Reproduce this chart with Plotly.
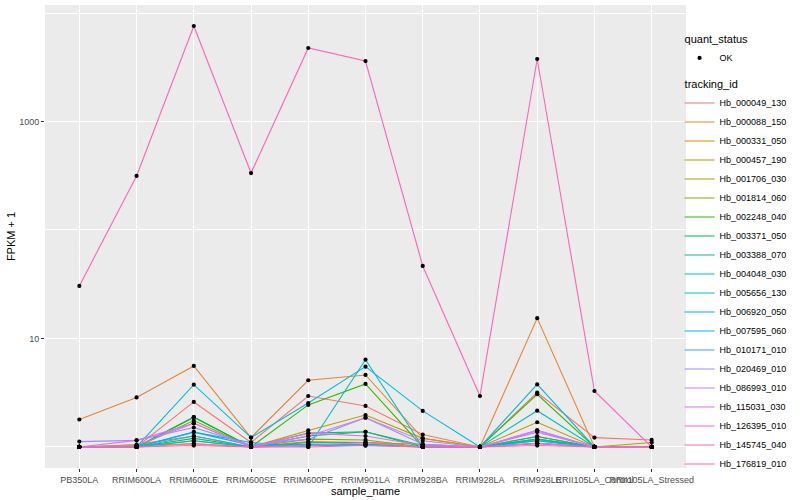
import math
import plotly.graph_objects as go

samples = ["PB350LA", "RRIM600LA", "RRIM600LE", "RRIM600SE", "RRIM600PE", "RRIM901LA",
           "RRIM928BA", "RRIM928LA", "RRIM928LE", "RRII105LA_Control", "RRII105LA_Stressed"]

tracking_ids = ["Hb_000049_130", "Hb_000088_150", "Hb_000331_050", "Hb_000457_190",
                "Hb_001706_030", "Hb_001814_060", "Hb_002248_040", "Hb_003371_050",
                "Hb_003388_070", "Hb_004048_030", "Hb_005656_130", "Hb_006920_050",
                "Hb_007595_060", "Hb_010171_010", "Hb_020469_010", "Hb_086993_010",
                "Hb_115031_030", "Hb_126395_010", "Hb_145745_040", "Hb_176819_010"]

# FPKM + 1 per sample (order of `samples`)
hb_000049_130 = [1.00, 1.00, 2.60, 1.10, 2.95, 2.39, 1.30, 1.00, 3.17, 1.22, 1.16]
hb_000088_150 = [1.79, 2.86, 5.58, 1.22, 4.12, 4.61, 1.20, 1.00, 15.4, 1.00, 1.00]
hb_000331_050 = [1.00, 1.03, 1.07, 1.00, 1.12, 1.10, 1.06, 1.00, 1.08, 1.00, 1.00]
hb_000457_190 = [1.00, 1.05, 1.26, 1.00, 1.42, 1.97, 1.20, 1.00, 1.69, 1.00, 1.10]
hb_001706_030 = [1.00, 1.00, 1.14, 1.00, 1.06, 1.06, 1.00, 1.00, 1.14, 1.00, 1.00]
hb_001814_060 = [1.00, 1.00, 1.75, 1.00, 1.18, 1.16, 1.00, 1.00, 1.25, 1.00, 1.00]
hb_002248_040 = [1.00, 1.00, 1.88, 1.00, 2.44, 3.81, 1.00, 1.00, 3.06, 1.00, 1.00]
hb_003371_050 = [1.00, 1.00, 1.88, 1.00, 1.26, 1.38, 1.00, 1.00, 1.18, 1.00, 1.00]
hb_003388_070 = [1.00, 1.00, 1.20, 1.00, 1.34, 1.38, 1.03, 1.00, 1.25, 1.00, 1.00]
hb_004048_030 = [1.00, 1.00, 1.14, 1.00, 1.10, 1.10, 1.00, 1.00, 1.18, 1.00, 1.00]
hb_005656_130 = [1.00, 1.00, 1.37, 1.10, 1.00, 6.38, 1.00, 1.00, 2.16, 1.00, 1.00]
hb_006920_050 = [1.00, 1.00, 3.75, 1.22, 2.54, 5.50, 2.15, 1.00, 3.77, 1.00, 1.00]
hb_007595_060 = [1.00, 1.00, 1.37, 1.04, 1.06, 1.06, 1.00, 1.00, 1.14, 1.00, 1.00]
hb_010171_010 = [1.00, 1.00, 1.26, 1.00, 1.03, 1.03, 1.00, 1.00, 1.08, 1.00, 1.00]
hb_020469_010 = [1.12, 1.15, 1.51, 1.04, 1.18, 1.86, 1.06, 1.00, 1.42, 1.00, 1.00]
hb_086993_010 = [1.00, 1.03, 1.65, 1.00, 1.26, 1.86, 1.14, 1.00, 1.42, 1.00, 1.00]
hb_115031_030 = [1.00, 1.15, 1.65, 1.00, 1.34, 1.26, 1.03, 1.00, 1.37, 1.00, 1.00]
hb_126395_010 = [1.00, 1.00, 1.07, 1.00, 1.03, 1.10, 1.00, 1.00, 1.08, 1.00, 1.00]
hb_145745_040 = [30.5, 315.0, 7590.0, 335.0, 4760.0, 3610.0, 46.6, 2.95, 3767.0, 3.28, 1.00]
hb_176819_010 = [1.00, 1.00, 1.03, 1.00, 1.00, 1.03, 1.00, 1.00, 1.03, 1.00, 1.00]

gene_values = [hb_000049_130, hb_000088_150, hb_000331_050, hb_000457_190, hb_001706_030,
               hb_001814_060, hb_002248_040, hb_003371_050, hb_003388_070, hb_004048_030,
               hb_005656_130, hb_006920_050, hb_007595_060, hb_010171_010, hb_020469_010,
               hb_086993_010, hb_115031_030, hb_126395_010, hb_145745_040, hb_176819_010]

y_tick_vals = [10, 1000]
y_tick_text = ["10", "1000"]


def hcl_hex(h, c=100.0, l=65.0):
    hr = math.radians(h)
    U, V = c * math.cos(hr), c * math.sin(hr)
    Y = 100.0 * ((l + 16.0) / 116.0) ** 3
    Xn, Yn, Zn = 95.047, 100.0, 108.883
    t = Xn + 15 * Yn + 3 * Zn
    un, vn = 4 * Xn / t, 9 * Yn / t
    u = U / (13 * l) + un
    v = V / (13 * l) + vn
    X = 9.0 * Y * u / (4 * v)
    Z = Y * (12 - 3 * u - 20 * v) / (4 * v)
    X, Y, Z = X / 100, Y / 100, Z / 100
    r = 3.240479 * X - 1.537150 * Y - 0.498535 * Z
    g = -0.969256 * X + 1.875992 * Y + 0.041556 * Z
    b = 0.055648 * X - 0.204043 * Y + 1.057311 * Z

    def gam(x):
        x = 1.055 * x ** (1 / 2.4) - 0.055 if x > 0.0031308 else 12.92 * x
        return int(round(min(max(x, 0.0), 1.0) * 255))
    return "#%02X%02X%02X" % (gam(r), gam(g), gam(b))


n = len(tracking_ids)
colors = [hcl_hex(15 + 360.0 * i / n) for i in range(n)]

fig = go.Figure()
for i, (name, vals) in enumerate(zip(tracking_ids, gene_values)):
    fig.add_trace(go.Scatter(
        x=samples, y=vals, mode="lines", name=name,
        line=dict(color=colors[i], width=1.1),
        legendgroup="tid", legendgrouptitle_text="tracking_id",
        legendrank=100 + i,
    ))

pts_x = [s for vals in gene_values for s in samples]
pts_y = [v for vals in gene_values for v in vals]
fig.add_trace(go.Scatter(
    x=pts_x, y=pts_y, mode="markers", name="OK",
    marker=dict(color="black", size=4.2),
    legendgroup="qs", legendgrouptitle_text="quant_status",
    legendrank=1,
))

font = "Liberation Sans, Arial, sans-serif"
fig.update_layout(
    width=800, height=500, autosize=False,
    margin=dict(l=45, r=114, t=5, b=32),
    paper_bgcolor="white", plot_bgcolor="#EBEBEB",
    font=dict(family=font, size=9, color="#4D4D4D"),
    showlegend=True,
    legend=dict(
        x=0.99, xanchor="left", y=0.958, yanchor="top",
        traceorder="grouped", tracegroupgap=7,
        font=dict(size=9, color="black"),
        grouptitlefont=dict(size=11, color="black"),
        bgcolor="rgba(0,0,0,0)", borderwidth=0,
        itemwidth=30,
    ),
)
fig.update_xaxes(
    type="category", categoryorder="array", categoryarray=samples,
    range=[-0.6, len(samples) - 0.4], automargin=False,
    showgrid=True, gridcolor="white", gridwidth=1.1,
    zeroline=False, showline=False,
    ticks="outside", ticklen=3, tickcolor="#333333", tickwidth=1,
    tickangle=0, tickfont=dict(size=9, color="#4D4D4D"),
    title=dict(text="sample_name", font=dict(size=11, color="black"), standoff=1),
)
fig.update_yaxes(
    type="log", range=[-0.194, 4.074], automargin=False,
    tickmode="array", tickvals=y_tick_vals, ticktext=y_tick_text,
    showgrid=True, gridcolor="white", gridwidth=1.1,
    minor=dict(tickmode="array", tickvals=[1, 100, 10000], showgrid=True,
               gridcolor="white", gridwidth=0.5, ticks=""),
    zeroline=False, showline=False,
    ticks="outside", ticklen=3, tickcolor="#333333", tickwidth=1,
    tickfont=dict(size=9, color="#4D4D4D"),
    title=dict(text="FPKM + 1", font=dict(size=11, color="black"), standoff=1),
)

fig.write_html("out.html", config={"displayModeBar": False},
               post_script="document.body.style.margin='0';document.body.style.overflow='hidden';")
